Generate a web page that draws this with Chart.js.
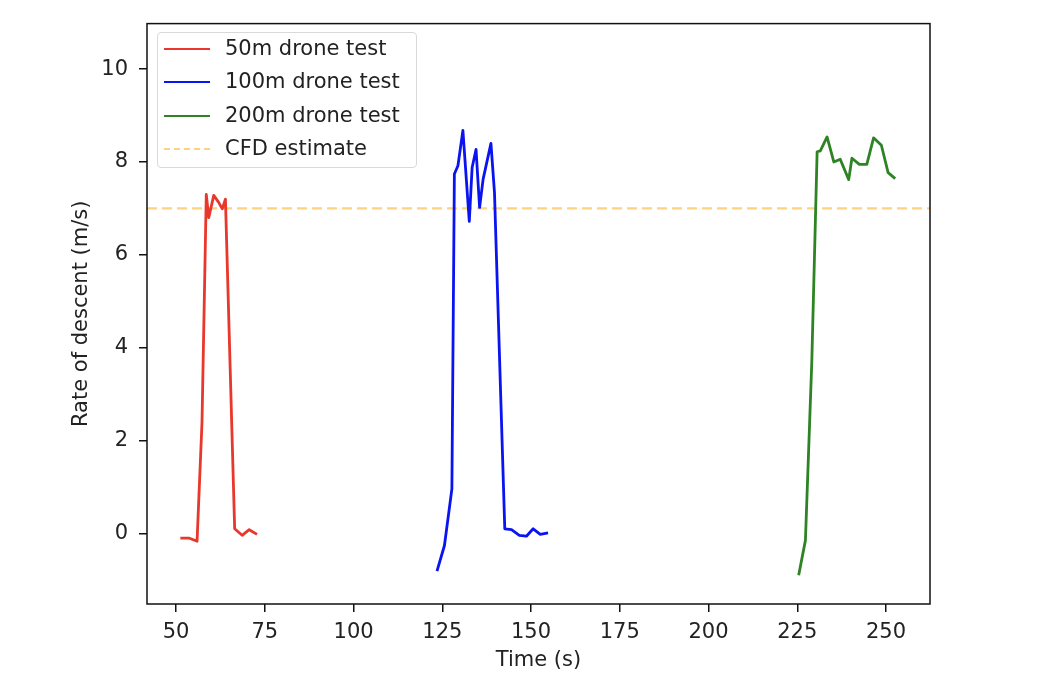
<!DOCTYPE html>
<html>
<head>
<meta charset="utf-8">
<script src="https://cdn.jsdelivr.net/npm/chart.js@4.4.1/dist/chart.umd.min.js"></script>
<style>
  html, body { margin: 0; padding: 0; background: #fff; }
  #wrap { position: relative; width: 1040px; height: 675px; }
  #legend {
    position: absolute; left: 157px; top: 32px; width: 258px; height: 134px;
    border: 1px solid #d9d9d9; border-radius: 4px; background: rgba(255,255,255,0.8);
    font-family: "DejaVu Sans", sans-serif; font-size: 21px; color: #222;
  }
  .row { position: absolute; left: 0; height: 30px; line-height: 30px; white-space: nowrap; }
  .swatch { position: absolute; left: 6px; top: 15px; width: 46px; height: 0; }
  .row span { position: absolute; left: 67px; }
</style>
</head>
<body>
<div id="wrap">
  <canvas id="myChart" width="1040" height="675"></canvas>
  <div id="legend"></div>
</div>
<script>
// 50m drop
var time50 = [51.2, 53.6, 55.9, 57.3, 58.5, 59.2, 60.6, 62.0, 63.0, 63.9, 66.5, 68.6, 70.6, 72.8];
var rate50 = [-0.10, -0.10, -0.17, 2.4, 7.30, 6.80, 7.28, 7.13, 6.99, 7.20, 0.10, -0.04, 0.08, -0.02];

// 100m drop
var time100 = [123.5, 125.6, 127.7, 128.4, 129.4, 130.8, 132.6, 133.4, 134.5, 135.5, 136.5, 138.7, 139.7, 142.6, 144.5, 146.7, 148.7, 150.6, 152.6, 154.8];
var rate100 = [-0.81, -0.26, 0.96, 7.74, 7.92, 8.68, 6.72, 7.88, 8.27, 7.02, 7.63, 8.40, 7.34, 0.10, 0.08, -0.04, -0.06, 0.10, -0.02, 0.01];

// 200m drop
var time200 = [225.4, 227.3, 229.1, 230.6, 231.5, 233.4, 235.3, 237.1, 239.5, 240.4, 242.5, 244.6, 246.5, 248.7, 250.6, 252.6];
var rate200 = [-0.90, -0.15, 3.70, 8.22, 8.24, 8.54, 8.00, 8.06, 7.62, 8.08, 7.95, 7.95, 8.52, 8.36, 7.77, 7.64];

var cfdEstimate = 7;

var xTicks = [50, 75, 100, 125, 150, 175, 200, 225, 250];
var yTicks = [0, 2, 4, 6, 8, 10];
var xMin = 41.8, xMax = 262.4;
var yMin = -1.52, yMax = 10.98;

var seriesNames = ['50m drone test', '100m drone test', '200m drone test', 'CFD estimate'];
var seriesColors = ['#e8372b', '#0a14f0', '#2e8424', 'rgba(255,165,0,0.5)'];

function pairs(xs, ys) {
  return xs.map(function (x, i) { return { x: x, y: ys[i] }; });
}

var FONT = 'DejaVu Sans';

var frame = {
  id: 'frame',
  afterDatasetsDraw: function (chart) {
    var a = chart.chartArea, c = chart.ctx;
    c.save();
    c.strokeStyle = '#111';
    c.lineWidth = 1.5;
    c.strokeRect(a.left, a.top, a.right - a.left, a.bottom - a.top);
    c.restore();
  }
};

var ctx = document.getElementById('myChart').getContext('2d');
var myChart = new Chart(ctx, {
  type: 'line',
  data: {
    datasets: [
      { label: seriesNames[0], data: pairs(time50, rate50), borderColor: seriesColors[0] },
      { label: seriesNames[1], data: pairs(time100, rate100), borderColor: seriesColors[1] },
      { label: seriesNames[2], data: pairs(time200, rate200), borderColor: seriesColors[2] },
      { label: seriesNames[3], data: [{ x: xMin, y: cfdEstimate }, { x: xMax, y: cfdEstimate }],
        borderColor: seriesColors[3], borderDash: [10, 5], borderWidth: 2.4 }
    ]
  },
  options: {
    responsive: false,
    animation: false,
    layout: { padding: { left: 0, top: 19, right: 110, bottom: 0 } },
    elements: {
      line: { borderWidth: 2.8, tension: 0, fill: false, borderJoinStyle: 'round' },
      point: { radius: 0 }
    },
    plugins: { legend: { display: false }, tooltip: { enabled: false } },
    scales: {
      x: {
        type: 'linear', min: xMin, max: xMax,
        afterBuildTicks: function (s) { s.ticks = xTicks.map(function (v) { return { value: v }; }); },
        afterFit: function (s) { s.height = 71; },
        grid: { drawOnChartArea: false, drawTicks: true, tickLength: 8, color: '#111', lineWidth: 1.5 },
        border: { display: false },
        ticks: { font: { family: FONT, size: 21 }, color: '#222', padding: 8, maxRotation: 0 },
        title: { display: true, text: 'Time (s)', font: { family: FONT, size: 21 }, color: '#222',
                 padding: { top: 0, bottom: 2 } }
      },
      y: {
        min: yMin, max: yMax,
        afterBuildTicks: function (s) { s.ticks = yTicks.map(function (v) { return { value: v }; }); },
        afterFit: function (s) { s.width = 147; },
        grid: { drawOnChartArea: false, drawTicks: true, tickLength: 8, color: '#111', lineWidth: 1.5 },
        border: { display: false },
        ticks: { font: { family: FONT, size: 21 }, color: '#222', padding: 11 },
        title: { display: true, text: 'Rate of descent (m/s)', font: { family: FONT, size: 21 }, color: '#222',
                 padding: { top: 69, bottom: 0 } }
      }
    }
  },
  plugins: [frame]
});

// legend drawn as html inside the axes
var legend = document.getElementById('legend');
seriesNames.forEach(function (name, i) {
  var row = document.createElement('div');
  row.className = 'row';
  row.style.top = (0 + i * 33.3) + 'px';
  var sw = document.createElement('div');
  sw.className = 'swatch';
  sw.style.borderTop = (i === 3 ? '2.4px dashed ' : '2.8px solid ') + seriesColors[i];
  var label = document.createElement('span');
  label.textContent = name;
  row.appendChild(sw);
  row.appendChild(label);
  legend.appendChild(row);
});
</script>
</body>
</html>
